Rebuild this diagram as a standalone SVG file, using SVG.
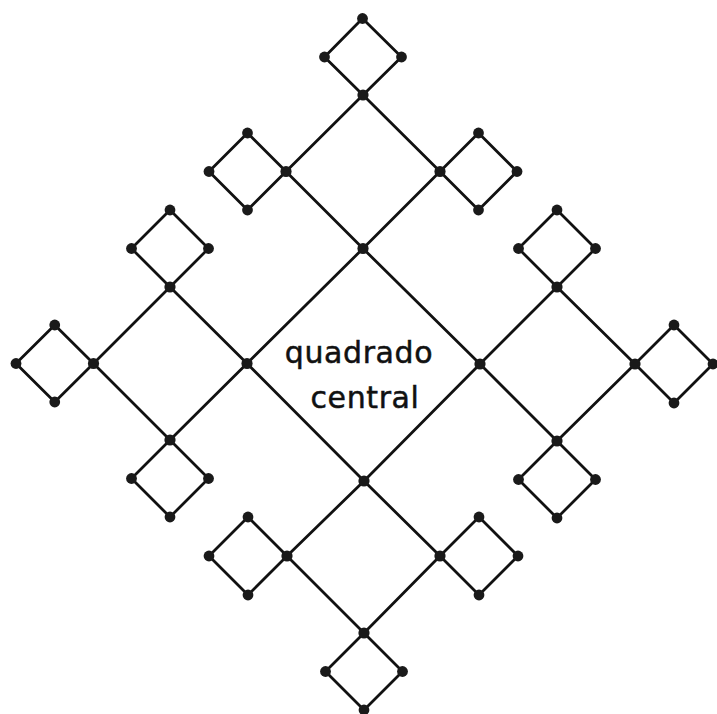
<svg xmlns="http://www.w3.org/2000/svg" width="717" height="714" viewBox="0 0 717 714">
<style>
.sq{fill:none;stroke:#111;stroke-width:2.8;stroke-linejoin:round}
.dot{fill:#1a1a1a}
.lbl{font-family:"DejaVu Sans","Liberation Sans",sans-serif;font-size:30px;fill:#111;stroke:#111;stroke-width:0.5;text-anchor:middle;letter-spacing:0.6px}
</style>
<rect width="717" height="714" fill="#fff"/>
<g id="connectors">
<polygon class="sq" points="363,248.5 480,364 364,481 247,363.5"/>
<polygon class="sq" points="363,95 440,171.5 363,248.5 286,171.5"/>
<polygon class="sq" points="170,287 247,363.5 170,440 93.5,363.5"/>
<polygon class="sq" points="557,287 635,364 557,441 480,364"/>
<polygon class="sq" points="364,481 440,556 364,633 287,556"/>
<polygon class="sq" points="362.5,18.5 401.5,57 363,95 324.5,57"/>
<polygon class="sq" points="247.5,133 286,171.5 247.5,210 209,171.5"/>
<polygon class="sq" points="478.5,133 517,171.5 478.5,210 440,171.5"/>
<polygon class="sq" points="170,210 208.5,248.5 170,287 131.5,248.5"/>
<polygon class="sq" points="54.75,325 93.5,363.5 54.75,402 16,363.5"/>
<polygon class="sq" points="170,440 208.5,478.5 170,517 131.5,478.5"/>
<polygon class="sq" points="557,210 595.5,248.5 557,287 518.5,248.5"/>
<polygon class="sq" points="674,325 713,364 674,403 635,364"/>
<polygon class="sq" points="557,441 595.5,479.5 557,518 518.5,479.5"/>
<polygon class="sq" points="248,517 287,556 248,595 209,556"/>
<polygon class="sq" points="479,517 518,556 479,595 440,556"/>
<polygon class="sq" points="364,633 402.5,671.5 364,710 325.5,671.5"/>
</g>
<g id="n-ct"><circle class="dot" cx="363" cy="248.5" r="5.6"/></g>
<g id="n-cr"><circle class="dot" cx="480" cy="364" r="5.6"/></g>
<g id="n-cb"><circle class="dot" cx="364" cy="481" r="5.6"/></g>
<g id="n-cl"><circle class="dot" cx="247" cy="363.5" r="5.6"/></g>
<g id="n-mt-t"><circle class="dot" cx="363" cy="95" r="5.6"/></g>
<g id="n-mt-l"><circle class="dot" cx="286" cy="171.5" r="5.6"/></g>
<g id="n-mt-r"><circle class="dot" cx="440" cy="171.5" r="5.6"/></g>
<g id="n-ml-t"><circle class="dot" cx="170" cy="287" r="5.6"/></g>
<g id="n-ml-l"><circle class="dot" cx="93.5" cy="363.5" r="5.6"/></g>
<g id="n-ml-b"><circle class="dot" cx="170" cy="440" r="5.6"/></g>
<g id="n-mr-t"><circle class="dot" cx="557" cy="287" r="5.6"/></g>
<g id="n-mr-r"><circle class="dot" cx="635" cy="364" r="5.6"/></g>
<g id="n-mr-b"><circle class="dot" cx="557" cy="441" r="5.6"/></g>
<g id="n-mb-l"><circle class="dot" cx="287" cy="556" r="5.6"/></g>
<g id="n-mb-r"><circle class="dot" cx="440" cy="556" r="5.6"/></g>
<g id="n-mb-b"><circle class="dot" cx="364" cy="633" r="5.6"/></g>
<g id="n-st-t"><circle class="dot" cx="362.5" cy="18.5" r="5.4"/></g>
<g id="n-st-l"><circle class="dot" cx="324.5" cy="57" r="5.4"/></g>
<g id="n-st-r"><circle class="dot" cx="401.5" cy="57" r="5.4"/></g>
<g id="n-stl-t"><circle class="dot" cx="247.5" cy="133" r="5.4"/></g>
<g id="n-stl-l"><circle class="dot" cx="209" cy="171.5" r="5.4"/></g>
<g id="n-stl-b"><circle class="dot" cx="247.5" cy="210" r="5.4"/></g>
<g id="n-str-t"><circle class="dot" cx="478.5" cy="133" r="5.4"/></g>
<g id="n-str-r"><circle class="dot" cx="517" cy="171.5" r="5.4"/></g>
<g id="n-str-b"><circle class="dot" cx="478.5" cy="210" r="5.4"/></g>
<g id="n-slt-t"><circle class="dot" cx="170" cy="210" r="5.4"/></g>
<g id="n-slt-l"><circle class="dot" cx="131.5" cy="248.5" r="5.4"/></g>
<g id="n-slt-r"><circle class="dot" cx="208.5" cy="248.5" r="5.4"/></g>
<g id="n-sll-t"><circle class="dot" cx="54.75" cy="325" r="5.4"/></g>
<g id="n-sll-l"><circle class="dot" cx="16" cy="363.5" r="5.4"/></g>
<g id="n-sll-b"><circle class="dot" cx="54.75" cy="402" r="5.4"/></g>
<g id="n-slb-l"><circle class="dot" cx="131.5" cy="478.5" r="5.4"/></g>
<g id="n-slb-r"><circle class="dot" cx="208.5" cy="478.5" r="5.4"/></g>
<g id="n-slb-b"><circle class="dot" cx="170" cy="517" r="5.4"/></g>
<g id="n-srt-t"><circle class="dot" cx="557" cy="210" r="5.4"/></g>
<g id="n-srt-l"><circle class="dot" cx="518.5" cy="248.5" r="5.4"/></g>
<g id="n-srt-r"><circle class="dot" cx="595.5" cy="248.5" r="5.4"/></g>
<g id="n-srr-t"><circle class="dot" cx="674" cy="325" r="5.4"/></g>
<g id="n-srr-r"><circle class="dot" cx="713" cy="364" r="5.4"/></g>
<g id="n-srr-b"><circle class="dot" cx="674" cy="403" r="5.4"/></g>
<g id="n-srb-l"><circle class="dot" cx="518.5" cy="479.5" r="5.4"/></g>
<g id="n-srb-r"><circle class="dot" cx="595.5" cy="479.5" r="5.4"/></g>
<g id="n-srb-b"><circle class="dot" cx="557" cy="518" r="5.4"/></g>
<g id="n-sbl-t"><circle class="dot" cx="248" cy="517" r="5.4"/></g>
<g id="n-sbl-l"><circle class="dot" cx="209" cy="556" r="5.4"/></g>
<g id="n-sbl-b"><circle class="dot" cx="248" cy="595" r="5.4"/></g>
<g id="n-sbr-t"><circle class="dot" cx="479" cy="517" r="5.4"/></g>
<g id="n-sbr-r"><circle class="dot" cx="518" cy="556" r="5.4"/></g>
<g id="n-sbr-b"><circle class="dot" cx="479" cy="595" r="5.4"/></g>
<g id="n-sbb-l"><circle class="dot" cx="325.5" cy="671.5" r="5.4"/></g>
<g id="n-sbb-r"><circle class="dot" cx="402.5" cy="671.5" r="5.4"/></g>
<g id="n-sbb-b"><circle class="dot" cx="364" cy="710" r="5.4"/></g>
<g id="label">
<text class="lbl" x="359" y="363">quadrado</text>
<text class="lbl" x="365" y="408">central</text>
</g>
</svg>
